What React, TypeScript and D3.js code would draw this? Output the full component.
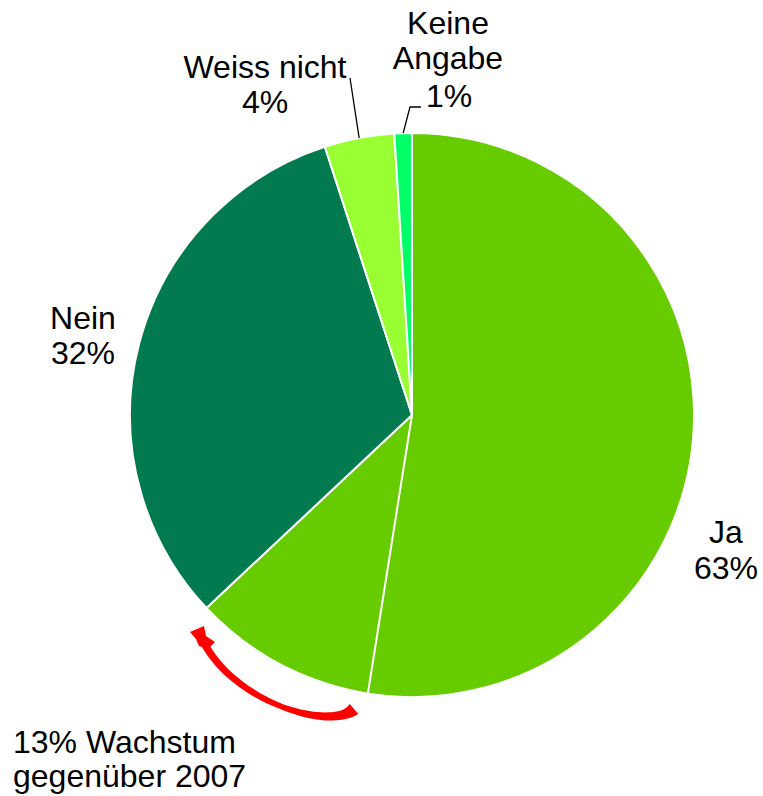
import React from "react";
import * as d3 from "d3";

// Anteile in Prozent, im Uhrzeigersinn ab 12 Uhr
const categories = ["Ja", "Nein", "Weiss nicht", "Keine Angabe"];
const shares = [63, 32, 4, 1];
const colors = ["#66cc00", "#007a4e", "#99ff33", "#00ff66"];
// Ja-Anteil 2007 (Trennlinie im Ja-Segment)
const priorJa = 52.5;
const growthLabel = ["13% Wachstum", "gegenüber 2007"];

const width = 763;
const height = 796;
const cx = 412;
const cy = 415;
const radius = 282;
const font = "'Liberation Sans', Arial, sans-serif";

type Datum = { name: string; value: number; color: string };
const data: Datum[] = categories.map((c, i) => ({ name: c, value: shares[i], color: colors[i] }));

// tapered red arrow: offset a cubic bezier by a varying half-width
function arrowShape() {
  const p0 = [354, 709], p1 = [330, 731], p2 = [236, 703], p3 = [204, 643];
  const bez = (t: number, k: number) =>
    (1 - t) ** 3 * p0[k] + 3 * (1 - t) ** 2 * t * p1[k] + 3 * (1 - t) * t * t * p2[k] + t ** 3 * p3[k];
  const halfW = d3.scaleLinear().domain([0, 0.12, 0.5, 1]).range([6.5, 4.6, 2.8, 3.8]);
  const left: [number, number][] = [];
  const right: [number, number][] = [];
  const n = 40;
  for (let i = 0; i <= n; i++) {
    const t = i / n;
    const x = bez(t, 0), y = bez(t, 1);
    const t2 = Math.min(1, t + 0.01), t1 = Math.max(0, t - 0.01);
    const dx = bez(t2, 0) - bez(t1, 0), dy = bez(t2, 1) - bez(t1, 1);
    const len = Math.hypot(dx, dy) || 1;
    const nx = -dy / len, ny = dx / len;
    const w = halfW(t);
    left.push([x + nx * w, y + ny * w]);
    right.push([x - nx * w, y - ny * w]);
  }
  const line = d3.line();
  return line([...left, ...right.reverse()]) + "Z";
}

export default function App() {
  const pie = d3.pie<Datum>().sort(null).value((d) => d.value).startAngle(0).endAngle(2 * Math.PI);
  const arcs = pie(data);
  const arc = d3.arc<d3.PieArcDatum<Datum>>().innerRadius(0).outerRadius(radius);

  const polar = (a: number, r: number) => [cx + r * Math.sin(a), cy - r * Math.cos(a)];
  const splitAngle = (priorJa / 100) * 2 * Math.PI;
  const splitEnd = polar(splitAngle, radius);

  const mid = (i: number) => (arcs[i].startAngle + arcs[i].endAngle) / 2;
  const weissPt = polar(mid(2), radius);
  const keinePt = polar(mid(3), radius);

  const textStyle = { fontFamily: font, fontSize: 32, fill: "#000" } as const;

  return (
    <svg width={width} height={height} style={{ position: "absolute", left: 0, top: 0 }}>
      <rect width={width} height={height} fill="#fff" />
      <g transform={`translate(${cx},${cy})`}>
        {arcs.map((a, i) => (
          <path key={i} d={arc(a) || ""} fill={a.data.color} stroke="#fff" strokeWidth={2} strokeLinejoin="round" />
        ))}
      </g>
      <line x1={cx} y1={cy} x2={splitEnd[0]} y2={splitEnd[1]} stroke="#fff" strokeWidth={2} />

      {/* leader lines */}
      <polyline points={`${weissPt[0]},${weissPt[1]} 350,78`} fill="none" stroke="#000" strokeWidth={1.3} />
      <polyline points={`${keinePt[0]},${keinePt[1]} 410,107 421,107`} fill="none" stroke="#000" strokeWidth={1.3} />

      {/* labels */}
      <text {...textStyle} textAnchor="middle">
        <tspan x={448} y={34}>Keine</tspan>
        <tspan x={448} y={69}>Angabe</tspan>
        <tspan x={449} y={107}>{shares[3]}%</tspan>
      </text>
      <text {...textStyle} textAnchor="middle">
        <tspan x={265} y={78}>{categories[2]}</tspan>
        <tspan x={265} y={113}>{shares[2]}%</tspan>
      </text>
      <text {...textStyle} textAnchor="middle">
        <tspan x={83} y={329}>{categories[1]}</tspan>
        <tspan x={83} y={364}>{shares[1]}%</tspan>
      </text>
      <text {...textStyle} textAnchor="middle">
        <tspan x={726} y={543}>{categories[0]}</tspan>
        <tspan x={726} y={579}>{shares[0]}%</tspan>
      </text>
      <text {...textStyle}>
        <tspan x={13} y={753}>{growthLabel[0]}</tspan>
        <tspan x={13} y={787}>{growthLabel[1]}</tspan>
      </text>

      {/* growth arrow */}
      <path d={arrowShape()} fill="#ff0000" />
      <path d="M190,632 L204,626 L206,636 L215,642 L208,649 L199,646 L196,639 Z" fill="#ff0000" />
    </svg>
  );
}
